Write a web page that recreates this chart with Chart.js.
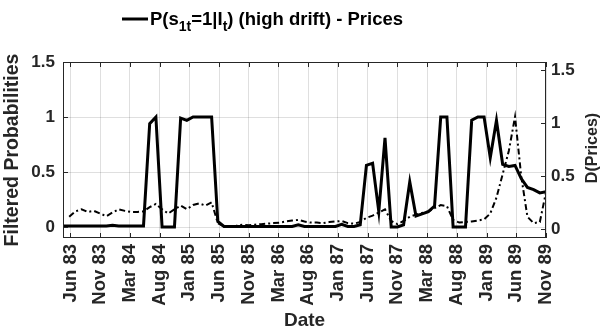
<!DOCTYPE html>
<html>
<head>
<meta charset="utf-8">
<script src="https://cdn.jsdelivr.net/npm/chart.js@4.4.1/dist/chart.umd.min.js"></script>
<style>
  html, body { margin: 0; padding: 0; background: #fff; }
  #grafico { display: block; }
</style>
</head>
<body>
<canvas id="grafico" width="605" height="335"></canvas>
<script>
// monthly observations, index 0 = left edge of the axis (spring 1983)
const probHighDrift = [
  0.01, 0.01, 0.01, 0.01, 0.01, 0.01, 0.01, 0.01, 0.015, 0.01,
  0.01, 0.01, 0.01, 0.01, 0.94, 1.0, 0.0, 0.0, 0.0, 0.99,
  0.97, 1.0, 1.0, 1.0, 1.0, 0.05, 0.005, 0.005, 0.005, 0.005,
  0.005, 0.005, 0.005, 0.005, 0.005, 0.005, 0.005, 0.005, 0.02, 0.005,
  0.005, 0.005, 0.005, 0.005, 0.005, 0.025, 0.005, 0.005, 0.02, 0.56,
  0.58, 0.14, 0.81, 0.0, 0.0, 0.02, 0.41, 0.1, 0.12, 0.14,
  0.19, 1.0, 1.0, 0.0, 0.0, 0.0, 0.97, 1.0, 1.0, 0.63,
  0.97, 0.57, 0.55, 0.56, 0.44, 0.36, 0.34, 0.31, 0.32
];

// differenced prices start one month later (index 1)
const dPrices = [
  0.12, 0.17, 0.19, 0.165, 0.175, 0.15, 0.125, 0.16, 0.19, 0.175,
  0.165, 0.165, 0.17, 0.21, 0.24, 0.19, 0.15, 0.19, 0.225, 0.19,
  0.23, 0.245, 0.225, 0.255, 0.06, 0.03, 0.03, 0.035, 0.045, 0.04,
  0.045, 0.05, 0.055, 0.06, 0.065, 0.075, 0.085, 0.09, 0.075, 0.065,
  0.065, 0.06, 0.07, 0.075, 0.08, 0.06, 0.055, 0.07, 0.11, 0.13,
  0.16, 0.19, 0.08, 0.05, 0.08, 0.12, 0.14, 0.155, 0.17, 0.2,
  0.23, 0.22, 0.09, 0.065, 0.07, 0.075, 0.085, 0.095, 0.15, 0.3,
  0.52, 0.74, 1.06, 0.5, 0.12, 0.06, 0.07, 0.35
];

const xTickLabels = [
  'Jun 83', 'Nov 83', 'Mar 84', 'Aug 84', 'Jan 85', 'Jun 85', 'Nov 85', 'Mar 86', 'Aug 86',
  'Jan 87', 'Jun 87', 'Nov 87', 'Mar 88', 'Aug 88', 'Jan 89', 'Jun 89', 'Nov 89'
];
const xTickPrimeiro = 1.2;
const xTickPasso = 4.8;

const yTicksEsq = [0, 0.5, 1, 1.5];
const yTicksDir = [0, 0.5, 1, 1.5];

const fonte = '"Liberation Sans", Arial, Helvetica, sans-serif';
const corTexto = '#262626';
const corGrade = 'rgba(38,38,38,0.15)';

function montaPontos(valores, inicio) {
  return valores.map((v, i) => ({ x: i + inicio, y: v }));
}

const xTickPos = xTickLabels.map((l, i) => xTickPrimeiro + i * xTickPasso);

// frame, inward tick marks, right axis title and the title line
const molduraPlugin = {
  id: 'moldura',
  afterDatasetsDraw(chart) {
    const ctx = chart.ctx;
    const a = chart.chartArea;
    const sx = chart.scales.x;
    const sy = chart.scales.y;
    const sy1 = chart.scales.y1;
    const tam = 5;
    ctx.save();
    ctx.strokeStyle = corTexto;
    ctx.lineWidth = 1;
    ctx.strokeRect(a.left + 0.5, a.top + 0.5, a.right - a.left - 1, a.bottom - a.top - 1);
    ctx.beginPath();
    xTickPos.forEach((v) => {
      const px = Math.round(sx.getPixelForValue(v)) + 0.5;
      ctx.moveTo(px, a.bottom);
      ctx.lineTo(px, a.bottom - tam);
      ctx.moveTo(px, a.top);
      ctx.lineTo(px, a.top + tam);
    });
    yTicksEsq.forEach((v) => {
      const py = Math.round(sy.getPixelForValue(v)) + 0.5;
      ctx.moveTo(a.left, py);
      ctx.lineTo(a.left + tam, py);
    });
    yTicksDir.forEach((v) => {
      const py = Math.round(sy1.getPixelForValue(v)) + 0.5;
      ctx.moveTo(a.right, py);
      ctx.lineTo(a.right - tam, py);
    });
    ctx.stroke();
    ctx.restore();
  },
  afterDraw(chart) {
    const ctx = chart.ctx;
    const a = chart.chartArea;
    ctx.save();
    // right axis title, reading bottom to top
    ctx.fillStyle = corTexto;
    ctx.font = 'bold 16px ' + fonte;
    ctx.textAlign = 'center';
    ctx.textBaseline = 'middle';
    ctx.translate(593, 148);
    ctx.rotate(-Math.PI / 2);
    ctx.fillText('D(Prices)', 0, 0);
    ctx.restore();

    // title with legend line sample
    ctx.save();
    ctx.strokeStyle = '#000';
    ctx.lineWidth = 3;
    ctx.beginPath();
    ctx.moveTo(122, 19);
    ctx.lineTo(148, 19);
    ctx.stroke();
    ctx.fillStyle = '#000';
    ctx.textBaseline = 'alphabetic';
    ctx.textAlign = 'left';
    const partes = [
      ['P(s', 0], ['1t', 1], ['=1|I', 0], ['t', 1], [') (high drift) - Prices', 0]
    ];
    let x = 150;
    partes.forEach(([txt, sub]) => {
      ctx.font = sub ? 'bold 14px ' + fonte : 'bold 18.5px ' + fonte;
      ctx.fillText(txt, x, sub ? 31 : 25);
      x += ctx.measureText(txt).width;
    });
    ctx.restore();
  }
};

function criaGrafico() {
  const ctx = document.getElementById('grafico');
  new Chart(ctx, {
    type: 'line',
    data: {
      datasets: [
        {
          label: 'P(s1t=1|It) (high drift) - Prices',
          data: montaPontos(probHighDrift, 0),
          yAxisID: 'y',
          borderColor: '#000',
          borderWidth: 3,
          pointRadius: 0,
          tension: 0,
          order: 1,
        },
        {
          label: 'D(Prices)',
          data: montaPontos(dPrices, 1),
          yAxisID: 'y1',
          borderColor: '#000',
          borderWidth: 2,
          borderDash: [6, 3, 2, 3],
          pointRadius: 0,
          tension: 0,
          order: 2,
        },
      ],
    },
    options: {
      responsive: false,
      animation: false,
      layout: { padding: { top: 62, left: 0, right: 0, bottom: 0 } },
      plugins: {
        legend: { display: false },
        title: { display: false },
        tooltip: { enabled: false },
      },
      scales: {
        x: {
          type: 'linear',
          min: 0,
          max: 78,
          afterBuildTicks: (s) => {
            s.ticks = xTickPos.map((v) => ({ value: v }));
          },
          afterFit: (s) => {
            s.height = 97;
          },
          ticks: {
            autoSkip: false,
            minRotation: 90,
            maxRotation: 90,
            padding: 6,
            color: corTexto,
            font: { family: fonte, size: 18.5, weight: 'bold' },
            callback: (v, i) => xTickLabels[i],
          },
          grid: { color: corGrade, drawTicks: false },
          border: { display: false },
          title: {
            display: true,
            text: 'Date',
            color: corTexto,
            font: { family: fonte, size: 19, weight: 'bold' },
            padding: { top: 0, bottom: 3 },
          },
        },
        y: {
          position: 'left',
          min: -0.1,
          max: 1.5,
          afterBuildTicks: (s) => {
            s.ticks = yTicksEsq.map((v) => ({ value: v }));
          },
          afterFit: (s) => {
            s.width = 63;
          },
          ticks: {
            padding: 8,
            color: corTexto,
            font: { family: fonte, size: 17, weight: 'bold' },
            callback: (v) => String(v),
          },
          grid: { color: corGrade, drawTicks: false },
          border: { display: false },
          title: {
            display: true,
            text: 'Filtered Probabilities',
            color: corTexto,
            font: { family: fonte, size: 19.5, weight: 'bold' },
            padding: { top: 1, bottom: 0 },
          },
        },
        y1: {
          position: 'right',
          min: -0.08,
          max: 1.575,
          afterBuildTicks: (s) => {
            s.ticks = yTicksDir.map((v) => ({ value: v }));
          },
          afterFit: (s) => {
            s.width = 59;
          },
          ticks: {
            padding: 5,
            color: corTexto,
            font: { family: fonte, size: 17, weight: 'bold' },
            callback: (v) => String(v),
          },
          grid: { display: false, drawTicks: false },
          border: { display: false },
        },
      },
    },
    plugins: [molduraPlugin],
  });
}

criaGrafico();
</script>
</body>
</html>
